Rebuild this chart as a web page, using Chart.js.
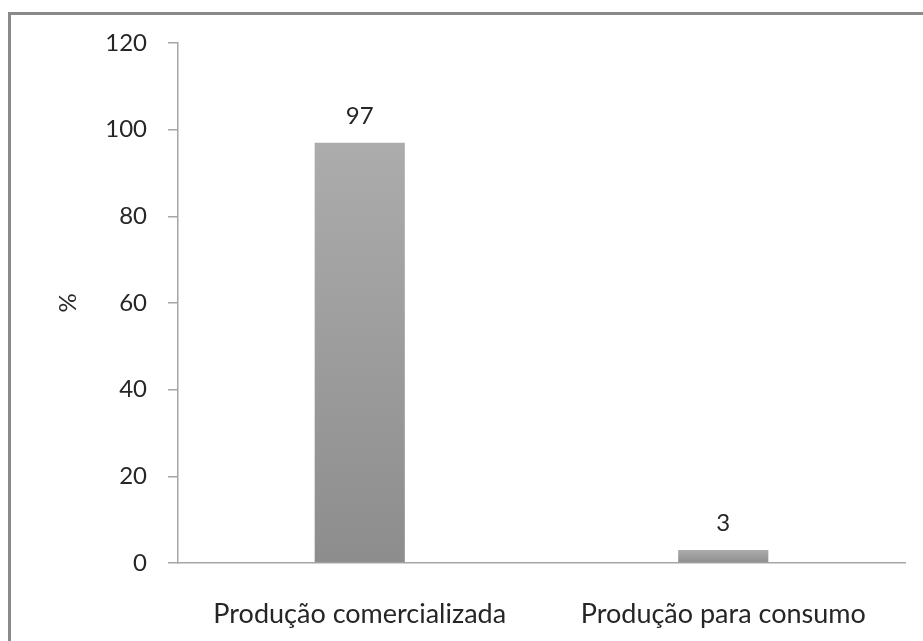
<!DOCTYPE html>
<html>
<head>
<meta charset="utf-8">
<script src="https://cdn.jsdelivr.net/npm/chart.js@4"></script>
<style>
  html, body { margin: 0; padding: 0; background: #fff; overflow: hidden; }
  #wrap { position: relative; width: 923px; height: 641px; }
  #frame {
    position: absolute; left: 8px; top: 12px; width: 940px; height: 660px;
    border: 3px solid #8a8a8a; box-sizing: border-box;
  }
  #myChart { position: absolute; left: 0; top: 0; }
</style>
</head>
<body>
<div id="wrap">
  <div id="frame"></div>
  <canvas id="myChart" width="923" height="641"></canvas>
</div>
<script>
var categories = ['Produção comercializada', 'Produção para consumo'];
var percentValues = [97, 3];
var yTicks = [0, 20, 40, 60, 80, 100, 120];

var textColor = '#262626';
var axisColor = '#a6a6a6';
var fontFamily = 'Lato, "Open Sans", sans-serif';

// vertical gradient per bar, lighter at the top
function barGradient(context) {
    var chart = context.chart;
    var y = chart.scales.y;
    if (!chart.chartArea || !y) return '#9c9c9c';
    var top = y.getPixelForValue(context.raw);
    var bottom = y.getPixelForValue(0);
    if (!isFinite(top) || !isFinite(bottom) || top === bottom) return '#9c9c9c';
    var g = chart.ctx.createLinearGradient(0, top, 0, bottom);
    g.addColorStop(0, '#acacac');
    g.addColorStop(1, '#8d8d8d');
    return g;
}

// value labels above each bar
var valueLabels = {
    id: 'valueLabels',
    afterDatasetsDraw: function(chart) {
        var ctx = chart.ctx;
        var meta = chart.getDatasetMeta(0);
        ctx.save();
        ctx.fillStyle = textColor;
        ctx.font = '24px ' + fontFamily;
        ctx.textAlign = 'center';
        ctx.textBaseline = 'alphabetic';
        for (var i = 0; i < meta.data.length; i++) {
            var bar = meta.data[i];
            ctx.fillText(String(percentValues[i]), bar.x, bar.y - 19);
        }
        ctx.restore();
    }
};

var ctx = document.getElementById('myChart');
var myChart = new Chart(ctx, {
    type: 'bar',
    data: {
        labels: categories,
        datasets: [{
            label: '%',
            data: percentValues,
            backgroundColor: barGradient,
            borderWidth: 0,
            barPercentage: 0.5,
            categoryPercentage: 0.496
        }]
    },
    options: {
        responsive: false,
        animation: false,
        maintainAspectRatio: false,
        layout: { padding: { left: 50, right: 18, top: 43, bottom: 0 } },
        plugins: {
            legend: { display: false },
            tooltip: { enabled: false }
        },
        scales: {
            x: {
                grid: { display: false },
                border: { color: axisColor, width: 1.5 },
                ticks: {
                    color: textColor,
                    padding: 27,
                    maxRotation: 0,
                    font: { family: fontFamily, size: 27 }
                },
                afterFit: function(scale) { scale.height = 78; }
            },
            y: {
                min: 0,
                max: 120,
                afterBuildTicks: function(scale) {
                    scale.ticks = yTicks.map(function(v) { return { value: v }; });
                },
                grid: {
                    drawOnChartArea: false,
                    drawTicks: true,
                    tickLength: 10,
                    color: axisColor,
                    lineWidth: 1.5
                },
                border: { color: axisColor, width: 1.5 },
                ticks: {
                    color: textColor,
                    padding: 21,
                    font: { family: fontFamily, size: 24 }
                },
                title: {
                    display: true,
                    text: '%',
                    color: textColor,
                    font: { family: fontFamily, size: 24 }
                },
                afterFit: function(scale) { scale.width = 128; }
            }
        }
    },
    plugins: [valueLabels]
});
</script>
</body>
</html>
